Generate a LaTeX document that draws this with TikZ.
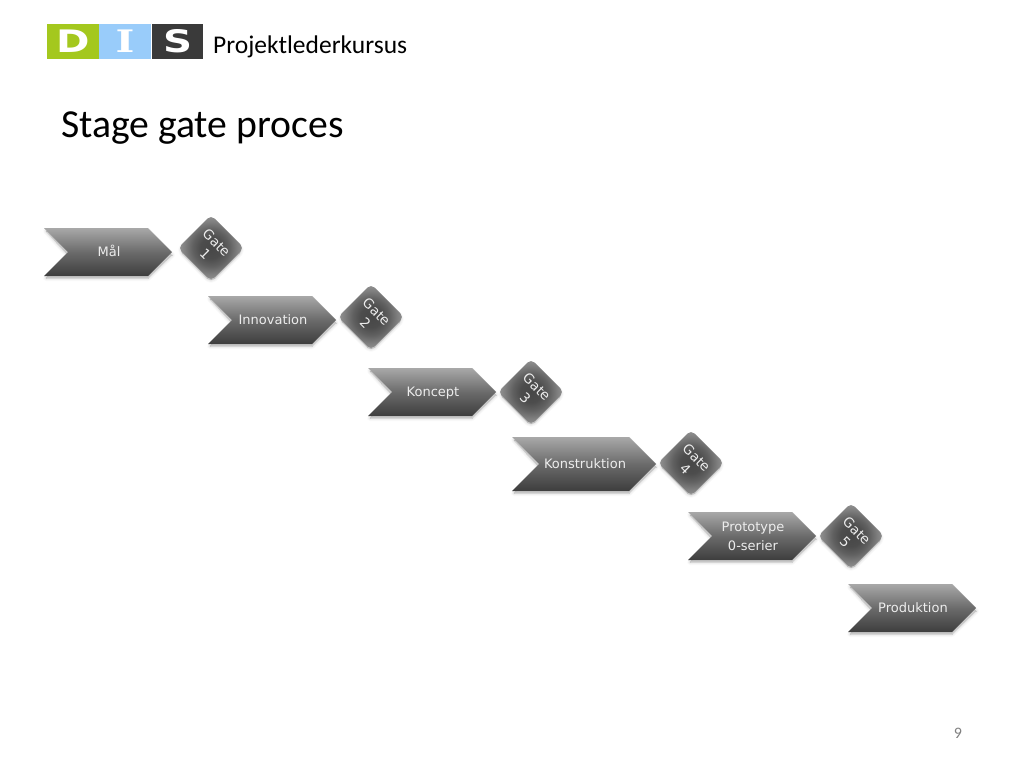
\documentclass[tikz,border=0pt]{standalone}
\usepackage{fontspec}
\setmainfont{Carlito}
\newfontfamily\lbl{DejaVu Sans}
\newfontfamily\logofont{DejaVu Sans}
\newfontfamily\logoserif{DejaVu Serif}
\definecolor{dgreen}{HTML}{A4C81E}
\definecolor{dblue}{HTML}{99CCFA}
\definecolor{ddark}{HTML}{3A3A3A}
\newcommand{\sst}{\rule[-5.7pt]{0pt}{19pt}}
\pgfdeclareverticalshading{chevshade}{100bp}{
 color(0bp)=(black!76); color(25bp)=(black!76); color(50bp)=(black!58); color(75bp)=(black!34); color(100bp)=(black!34)}
\pgfdeclareradialshading{gateshade}{\pgfpoint{0bp}{0bp}}{
 color(0bp)=(black!72); color(8bp)=(black!70); color(14bp)=(black!62); color(20bp)=(black!50); color(25bp)=(black!42); color(50bp)=(black!42)}
\tikzset{
 x=1pt,y=-1pt,
 chevlabel/.style={text=white!93!black,font=\lbl\fontsize{13}{19}\selectfont,align=center,inner sep=0pt},
 gatelabel/.style={text=white!93!black,font=\lbl\fontsize{13.5}{16}\selectfont,align=center,inner sep=0pt,rotate=-45},
 logoletter/.style={text=white,inner sep=0pt,xscale=1.3},
 logobox/.style={inner sep=0pt,minimum height=35pt,anchor=north west},
}
% #1 left, #2 top, #3 right, #4 bottom, #5 depth of the point, #6 node name, #7 text
\newcommand{\chev}[7]{%
 \foreach \w/\o in {6/.025,4/.03,2/.04,0/.05}{
  \fill[black,opacity=\o,draw=black,line width=\w pt,line join=round]
   (#1+2,#2+3) -- (#3-#5,#2+3) -- (#3,{(#2+#4)/2+3}) -- (#3-#5,#4+2) -- (#1+2,#4+2) -- (#1+#5,{(#2+#4)/2+3}) -- cycle;
 }
 \shade[shading=chevshade]
   (#1,#2) -- (#3-#5,#2) -- (#3,{(#2+#4)/2}) -- (#3-#5,#4) -- (#1,#4) -- (#1+#5,{(#2+#4)/2}) -- cycle;
 \node[chevlabel] (#6) at ({(#1+#3)/2+1},{(#2+#4)/2+1}) {#7};
}
% #1 cx, #2 cy, #3 node name, #4 gate number
\newcommand{\gate}[4]{%
 \foreach \w/\o in {6/.025,4/.03,2/.04,0/.05}{
  \fill[black,opacity=\o,draw=black,line width=\w pt,line join=round,rounded corners=5pt]
   (#1-32,#2+2) -- (#1,#2-29) -- (#1+32,#2+2) -- (#1,#2+34) -- cycle;
 }
 \shade[shading=gateshade,rounded corners=5pt]
   (#1-33,#2) -- (#1,#2-33) -- (#1+33,#2) -- (#1,#2+33) -- cycle;
 \node[gatelabel] (#3) at (#1,#2+0.5) {Gate\\#4};
}
\begin{document}
\begin{tikzpicture}
\useasboundingbox (0,0) rectangle (1024,768);
\fill[white] (0,0) rectangle (1024,768);
% logo
\node[logobox,fill=dgreen,minimum width=51.5pt] (lg) at (47,24) {};
\node[logobox,fill=dblue,minimum width=52pt] (lb) at (99,24) {};
\node[logobox,fill=ddark,minimum width=51pt] (ld) at (152,24) {};
\node[logoletter,font=\logofont\bfseries\fontsize{31}{31}\selectfont] (l1) at (73.5,41.5) {D};
\node[logoletter,font=\logoserif\bfseries\fontsize{31}{31}\selectfont] (l2) at (125,41.5) {I};
\node[logoletter,font=\logofont\bfseries\fontsize{31}{31}\selectfont] (l3) at (178,41.5) {S};
\node[anchor=base west,inner sep=0pt,font=\fontsize{25.5}{26}\selectfont] (hdr) at (213,53) {Projektlederkursus};
\node[anchor=base west,inner sep=0pt,font=\fontsize{39.7}{40}\selectfont] (ttl) at (61,137) {Stage gate proces};
% stages
\chev{44}{228}{172}{276}{24}{s1}{\sst Mål}
\gate{211}{248}{g1}{1}
\chev{208}{296}{336}{344}{24}{s2}{\sst Innovation}
\gate{371}{317}{g2}{2}
\chev{368}{368}{496}{416}{24}{s3}{\sst Koncept}
\gate{531}{392}{g3}{3}
\chev{512}{437}{656}{491}{27}{s4}{\sst Konstruktion}
\gate{691}{463}{g4}{4}
\chev{688}{512}{816}{560}{24}{s5}{\sst Prototype\\\sst 0-serier}
\gate{851}{536}{g5}{5}
\chev{848}{584}{976}{632}{24}{s6}{\sst Produktion}
\node[text=black!50,font=\fontsize{16}{16}\selectfont,inner sep=0pt] (pg) at (958,733) {9};
\end{tikzpicture}
\end{document}
